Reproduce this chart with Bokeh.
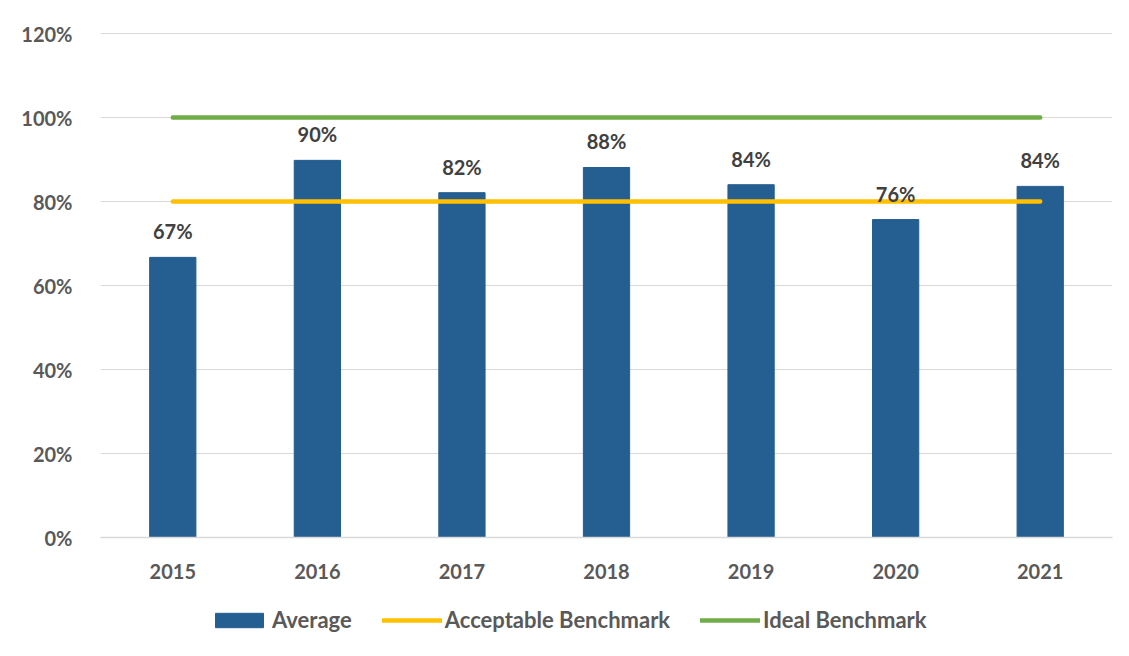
from bokeh.plotting import figure
from bokeh.layouts import column
from bokeh.models import FactorRange, Range1d, NumeralTickFormatter, Legend, LegendItem, ColumnDataSource, FixedTicker
from bokeh.core.properties import value
from bokeh.embed import file_html
from bokeh.resources import INLINE

years = ["2015", "2016", "2017", "2018", "2019", "2020", "2021"]
average = [0.667, 0.898, 0.821, 0.881, 0.840, 0.757, 0.836]
acceptable = [0.80, 0.80, 0.80, 0.80, 0.80, 0.80, 0.80]
ideal = [1.00, 1.00, 1.00, 1.00, 1.00, 1.00, 1.00]
y_ticks = [0, 0.2, 0.4, 0.6, 0.8, 1.0, 1.2]
series_names = ["Average", "Acceptable Benchmark", "Ideal Benchmark"]

FONT = "Lato"
AXIS_COLOR = "#595959"
LABEL_COLOR = "#404040"
BAR_COLOR = "#255E91"
ACC_COLOR = "#FFC000"
IDEAL_COLOR = "#70AD47"

src = ColumnDataSource(dict(
    x=years, avg=average, acc=acceptable, ideal=ideal,
    lbl=[f"{round(v * 100):d}%" for v in average],
))

p = figure(width=1128, height=598, frame_width=1012, frame_height=505,
           x_range=FactorRange(*years, range_padding=0),
           y_range=Range1d(0, 1.2024), output_backend="svg", toolbar_location=None,
           min_border_left=100, min_border_right=16, min_border_top=32, min_border_bottom=61)
p.outline_line_color = None
p.background_fill_color = "white"
p.border_fill_color = "white"

p.vbar(x="x", top="avg", width=0.32, source=src, fill_color=BAR_COLOR, line_color=BAR_COLOR)
p.line(x="x", y="acc", source=src, line_color=ACC_COLOR, line_width=4.5, line_cap="round")
p.line(x="x", y="ideal", source=src, line_color=IDEAL_COLOR, line_width=4.5, line_cap="round")

p.text(x="x", y="avg", text="lbl", source=src, text_align="center", text_baseline="bottom",
       y_offset=-14, text_font=value(FONT), text_font_style="bold", text_font_size="20px",
       text_color=LABEL_COLOR)

# y axis
p.yaxis.ticker = FixedTicker(ticks=y_ticks)
p.yaxis.formatter = NumeralTickFormatter(format="0%")
p.yaxis.axis_line_color = None
p.yaxis.major_tick_line_color = None
p.yaxis.minor_tick_line_color = None
p.yaxis.major_label_standoff = 22
p.yaxis.major_label_text_font = FONT
p.yaxis.major_label_text_font_style = "bold"
p.yaxis.major_label_text_font_size = "20px"
p.yaxis.major_label_text_color = AXIS_COLOR

# x axis
p.xaxis.axis_line_color = "#D9D9D9"
p.xaxis.axis_line_width = 1.5
p.xaxis.major_tick_line_color = None
p.xaxis.minor_tick_line_color = None
p.xaxis.major_label_standoff = 20
p.xaxis.major_label_text_font = FONT
p.xaxis.major_label_text_font_style = "bold"
p.xaxis.major_label_text_font_size = "20px"
p.xaxis.major_label_text_color = AXIS_COLOR

p.xgrid.grid_line_color = None
p.ygrid.grid_line_color = "#D9D9D9"
p.ygrid.grid_line_width = 1.2

# legend strip (separate figure so the legend is not clipped)
lg = figure(width=1128, height=44, x_range=Range1d(0, 1), y_range=Range1d(0, 1),
            output_backend="svg", toolbar_location=None,
            x_axis_location=None, y_axis_location=None,
            min_border_left=100, min_border_right=16, min_border_top=0, min_border_bottom=0)
lg.outline_line_color = None
lg.xgrid.grid_line_color = None
lg.ygrid.grid_line_color = None
offscreen = ColumnDataSource(dict(x=[-5, -4], y=[-5, -5]))
r_bar = lg.vbar(x="x", top="y", width=0.1, source=offscreen, fill_color=BAR_COLOR, line_color=BAR_COLOR)
r_acc = lg.line(x="x", y="y", source=offscreen, line_color=ACC_COLOR, line_width=4.5, line_cap="round")
r_ideal = lg.line(x="x", y="y", source=offscreen, line_color=IDEAL_COLOR, line_width=4.5, line_cap="round")

legend = Legend(items=[
    LegendItem(label=series_names[0], renderers=[r_bar]),
    LegendItem(label=series_names[1], renderers=[r_acc]),
    LegendItem(label=series_names[2], renderers=[r_ideal]),
], orientation="horizontal", location=(109, 9))
legend.label_text_font = FONT
legend.label_text_font_style = "bold"
legend.label_text_font_size = "22px"
legend.label_text_color = AXIS_COLOR
legend.glyph_width = 60
legend.glyph_height = 18
legend.label_standoff = 3
legend.spacing = 30
legend.border_line_color = None
legend.background_fill_alpha = 0
legend.padding = 0
legend.margin = 0
lg.add_layout(legend, "center")

layout = column(p, lg, spacing=0)
open("out.html", "w").write(file_html(layout, INLINE))
